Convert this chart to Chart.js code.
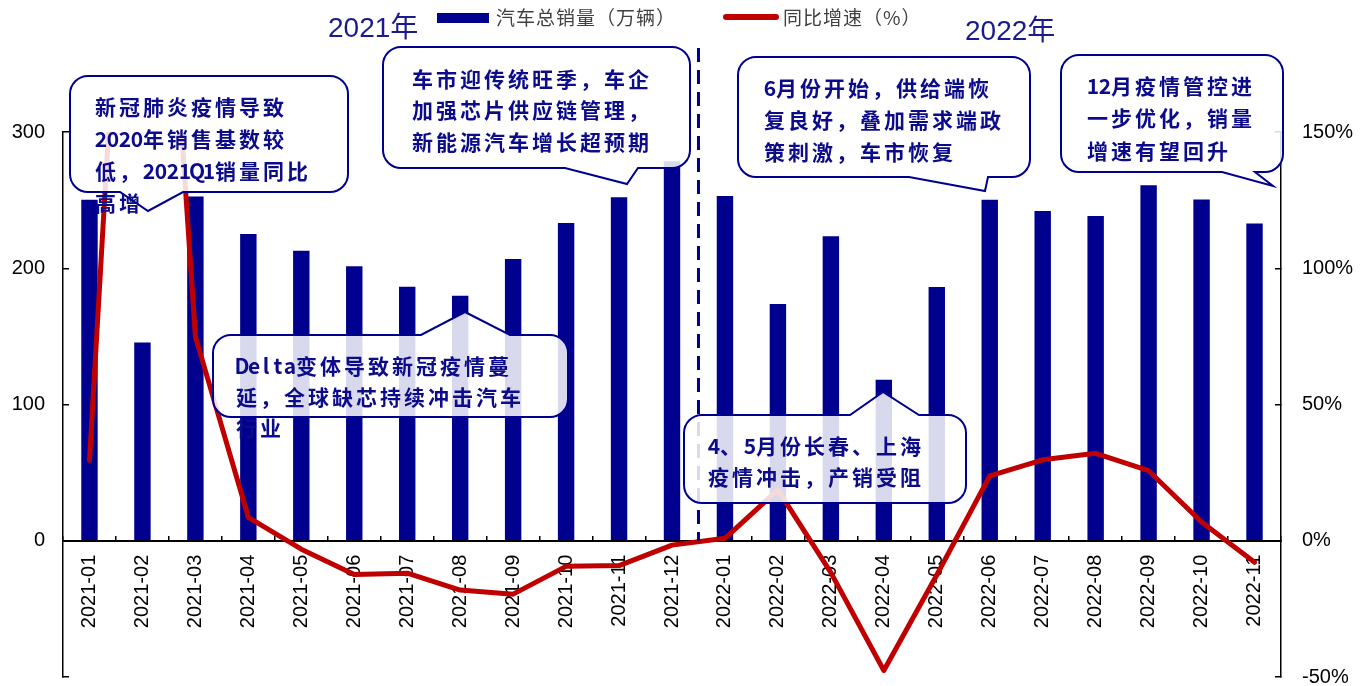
<!DOCTYPE html>
<html>
<head>
<meta charset="utf-8">
<script src="https://cdn.jsdelivr.net/npm/chart.js@4.4.1/dist/chart.umd.min.js"></script>
<style>
  html, body { margin: 0; padding: 0; background: #fff; }
  #wrap { width: 1370px; height: 686px; }
</style>
</head>
<body>
<div id="wrap"><canvas id="salesChart" width="1370" height="686"></canvas></div>
<script>
// monthly sales (10k units) and year-on-year growth (%)
const months = ['2021-01', '2021-02', '2021-03', '2021-04', '2021-05', '2021-06', '2021-07', '2021-08',
    '2021-09', '2021-10', '2021-11', '2021-12', '2022-01', '2022-02', '2022-03', '2022-04',
    '2022-05', '2022-06', '2022-07', '2022-08', '2022-09', '2022-10', '2022-11'];
const sales = [250.3, 145.5, 252.6, 225.2, 212.8, 201.5, 186.4, 179.9, 206.7, 233.2, 252.2, 278.6,
    253.1, 173.7, 223.4, 118.1, 186.2, 250.2, 242.0, 238.3, 261.0, 250.5, 232.9];
const growth = [29.5, 364.8, 74.9, 8.6, -3.1, -12.4, -11.9, -18.1, -19.6, -9.4, -9.1, -1.6,
    0.9, 18.7, -11.7, -47.6, -12.6, 23.8, 29.7, 32.1, 25.7, 6.9, -7.9];
const seriesNames = ['汽车总销量（万辆）', '同比增速（%）'];
const yearLabels = ['2021年', '2022年'];

const NAVY = '#00008F';
const RED = '#C00000';
const TEXT_NAVY = '#0C0C8A';

// callout boxes: [left, top, right, bottom], pointer [edge, base1, base2, tipX, tipY]
const notes = [
    { box: [70, 76, 348, 192], tip: ['bottom', 120, 183, 148, 211], x: 95, y: 107, step: 32,
      rows: ['新冠肺炎疫情导致', '2020年销售基数较', '低，2021Q1销量同比', '高增'] },
    { box: [383, 47, 690, 168], tip: ['bottom', 565, 638, 627, 184], x: 412, y: 79, step: 31.5,
      rows: ['车市迎传统旺季，车企', '加强芯片供应链管理，', '新能源汽车增长超预期'] },
    { box: [738, 57, 1030, 177], tip: ['bottom', 909, 988, 985, 191], x: 764, y: 88, step: 32,
      rows: ['6月份开始，供给端恢', '复良好，叠加需求端政', '策刺激，车市恢复'] },
    { box: [1061, 55, 1283, 172], tip: ['bottom', 1222, 1255, 1273, 186], x: 1087, y: 86, step: 32.5,
      rows: ['12月疫情管控进', '一步优化，销量', '增速有望回升'] },
    { box: [213, 335, 568, 417], tip: ['top', 421, 510, 465, 312], x: 236, y: 366, step: 31,
      rows: ['Delta变体导致新冠疫情蔓', '延，全球缺芯持续冲击汽车', '行业'] },
    { box: [684, 415, 966, 503], tip: ['top', 850, 919, 883, 392], x: 708, y: 446, step: 31,
      rows: ['4、5月份长春、上海', '疫情冲击，产销受阻'] }
];

function calloutPath(ctx, n) {
    const [x0, y0, x1, y1] = n.box;
    const [edge, b1, b2, tx, ty] = n.tip;
    const r = 18;
    ctx.beginPath();
    ctx.moveTo(x0 + r, y0);
    if (edge === 'top') {
        ctx.lineTo(b1, y0);
        ctx.lineTo(tx, ty);
        ctx.lineTo(b2, y0);
    }
    ctx.lineTo(x1 - r, y0);
    ctx.arcTo(x1, y0, x1, y0 + r, r);
    ctx.lineTo(x1, y1 - r);
    ctx.arcTo(x1, y1, x1 - r, y1, r);
    if (edge === 'bottom') {
        ctx.lineTo(b2, y1);
        ctx.lineTo(tx, ty);
        ctx.lineTo(b1, y1);
    }
    ctx.lineTo(x0 + r, y1);
    ctx.arcTo(x0, y1, x0, y1 - r, r);
    ctx.lineTo(x0, y0 + r);
    ctx.arcTo(x0, y0, x0 + r, y0, r);
    ctx.closePath();
}

// full-width glyphs sit in 24px cells, half-width ones in 12px cells
function drawRow(ctx, text, x, y) {
    ctx.textAlign = 'center';
    for (const ch of text) {
        const cell = ch.charCodeAt(0) > 0x2E80 ? 24 : 12;
        ctx.fillText(ch, x + cell / 2 - (cell === 24 ? 1.5 : 0), y);
        x += cell;
    }
    ctx.textAlign = 'left';
}

const overlay = {
    id: 'overlay',
    afterDatasetsDraw(chart) {
        const ctx = chart.ctx;
        const x = chart.scales.x;
        const y = chart.scales.y;
        ctx.save();

        // dashed divider between the two years
        const split = (x.getPixelForValue(11) + x.getPixelForValue(12)) / 2;
        ctx.strokeStyle = NAVY;
        ctx.lineWidth = 3;
        ctx.setLineDash([14, 8]);
        ctx.beginPath();
        ctx.moveTo(split, 48);
        ctx.lineTo(split, y.getPixelForValue(0));
        ctx.stroke();
        ctx.setLineDash([]);

        // year titles
        ctx.fillStyle = '#1A1A8C';
        ctx.font = '28px "Liberation Sans", "Noto Sans CJK SC"';
        ctx.textBaseline = 'middle';
        ctx.textAlign = 'left';
        ctx.fillText(yearLabels[0], 328, 29);
        ctx.fillText(yearLabels[1], 965, 32);

        // legend
        ctx.fillStyle = NAVY;
        ctx.fillRect(437, 13, 52, 10);
        ctx.strokeStyle = RED;
        ctx.lineWidth = 6;
        ctx.lineCap = 'round';
        ctx.beginPath();
        ctx.moveTo(726, 17);
        ctx.lineTo(776, 17);
        ctx.stroke();
        ctx.fillStyle = '#404040';
        ctx.font = '19px "Noto Sans CJK SC"';
        ctx.letterSpacing = '1px';
        ctx.fillText(seriesNames[0], 496, 18);
        ctx.fillText(seriesNames[1], 783, 18);
        ctx.letterSpacing = '0px';

        // callouts
        notes.forEach(n => {
            calloutPath(ctx, n);
            ctx.fillStyle = 'rgba(255,255,255,0.85)';
            ctx.fill();
            ctx.strokeStyle = NAVY;
            ctx.lineWidth = 2;
            ctx.lineJoin = 'miter';
            ctx.stroke();
            ctx.fillStyle = TEXT_NAVY;
            ctx.font = 'bold 21px "Noto Sans CJK SC"';
            n.rows.forEach((row, i) => drawRow(ctx, row, n.x, n.y + i * n.step));
        });
        ctx.restore();
    }
};

new Chart(document.getElementById('salesChart').getContext('2d'), {
    type: 'bar',
    data: {
        labels: months,
        datasets: [
            {
                type: 'line',
                label: seriesNames[1],
                data: growth,
                yAxisID: 'y1',
                borderColor: RED,
                borderWidth: 5,
                borderCapStyle: 'round',
                borderJoinStyle: 'round',
                pointRadius: 0,
                tension: 0,
                order: 0
            },
            {
                label: seriesNames[0],
                data: sales,
                yAxisID: 'y',
                backgroundColor: NAVY,
                categoryPercentage: 1,
                barPercentage: 0.31,
                order: 1
            }
        ]
    },
    options: {
        responsive: false,
        animation: false,
        devicePixelRatio: 1,
        layout: { padding: { top: 132, bottom: 9, left: 0, right: 0 } },
        plugins: { legend: { display: false }, tooltip: { enabled: false } },
        scales: {
            x: {
                position: { y: 0 },
                offset: true,
                grid: { offset: true, drawOnChartArea: false, tickLength: -6, color: '#000', lineWidth: 1.5 },
                border: { display: true, color: '#000', width: 2 },
                ticks: {
                    maxRotation: 90, minRotation: 90, autoSkip: false, padding: 20,
                    color: '#000', font: { family: '"Liberation Sans", Arial', size: 20 }
                },
                afterFit: (s) => { s.paddingLeft = 0; s.paddingRight = 0; }
            },
            y: {
                position: 'left',
                min: -100, max: 300,
                grid: { drawOnChartArea: false, tickLength: -6, color: '#000', lineWidth: 1.5 },
                border: { display: true, color: '#000', width: 1.5 },
                ticks: {
                    stepSize: 100, padding: 24, color: '#000',
                    font: { family: '"Liberation Sans", Arial', size: 20 },
                    callback: (v) => v < 0 ? '' : v
                },
                afterFit: (s) => { s.width = 63; s.paddingTop = 0; s.paddingBottom = 0; }
            },
            y1: {
                position: 'right',
                min: -50, max: 150,
                grid: { drawOnChartArea: false, tickLength: -6, color: '#000', lineWidth: 1.5 },
                border: { display: true, color: '#000', width: 1.5 },
                ticks: {
                    stepSize: 50, padding: 27, color: '#000',
                    font: { family: '"Liberation Sans", Arial', size: 20 },
                    callback: (v) => v + '%'
                },
                afterFit: (s) => { s.width = 89; s.paddingTop = 0; s.paddingBottom = 0; }
            }
        }
    },
    plugins: [overlay]
});
</script>
</body>
</html>
